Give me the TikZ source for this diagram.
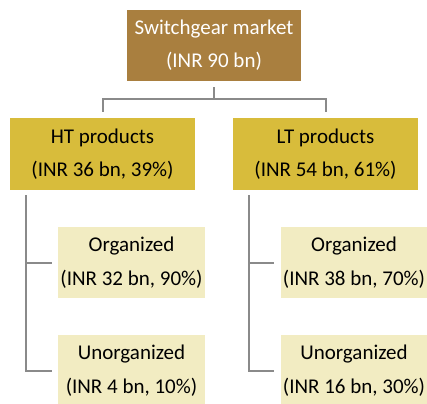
\documentclass[tikz,border=0pt]{standalone}
\usepackage{fontspec}
\setmainfont{Carlito}
\definecolor{rootfill}{HTML}{A97F3F}
\definecolor{midfill}{HTML}{D8BC3B}
\definecolor{leaffill}{HTML}{F2ECC2}
\definecolor{linkgray}{HTML}{8A8A8A}
\begin{document}
\begin{tikzpicture}[x=1pt,y=-1pt,
  box/.style={draw=none, inner sep=0pt, align=center, font=\fontsize{21}{33}\selectfont},
  rootbox/.style={box, fill=rootfill, text=white, minimum width=174pt, minimum height=71pt},
  midbox/.style={box, fill=midfill, text=black, minimum width=185pt, minimum height=72pt},
  leafbox/.style={box, fill=leaffill, text=black, minimum width=147pt, minimum height=71pt,
    font=\fontsize{21}{34.5}\selectfont},
  conn/.style={draw=linkgray, line width=2pt}]
\useasboundingbox (0,0) rectangle (427,403);
\begin{scope}
\clip (0,0) rectangle (427,403);
\node[rootbox] (root) at (214,45.5) {Switchgear market\\(INR 90 bn)};
\node[midbox] (ht) at (102.5,154) {HT products\\(INR 36 bn, 39\%)};
\node[midbox] (lt) at (325.5,154) {LT products\\(INR 54 bn, 61\%)};
\node[leafbox] (orgL) at (131.5,262.5) {Organized\\(INR 32 bn, 90\%)};
\node[leafbox] (unorgL) at (131.5,370.5) {Unorganized\\(INR 4 bn, 10\%)};
\node[leafbox] (orgR) at (354,262.5) {Organized\\(INR 38 bn, 70\%)};
\node[leafbox] (unorgR) at (354,370.5) {Unorganized\\(INR 16 bn, 30\%)};
\end{scope}
% root to the two product groups
\draw[conn, shorten <=6pt, shorten >=6pt] (root.south) -- ++(0,18) -| (ht.north);
\draw[conn, shorten <=6pt, shorten >=6pt] (root.south) -- ++(0,18) -| (lt.north);
% product groups to their segments
\draw[conn, shorten <=5pt, shorten >=6pt] ([xshift=16pt]ht.south west) |- (orgL.west);
\draw[conn, shorten <=5pt, shorten >=6pt] ([xshift=16pt]ht.south west) |- (unorgL.west);
\draw[conn, shorten <=5pt, shorten >=6pt] ([xshift=16pt]lt.south west) |- (orgR.west);
\draw[conn, shorten <=5pt, shorten >=6pt] ([xshift=16pt]lt.south west) |- (unorgR.west);
\end{tikzpicture}
\end{document}
